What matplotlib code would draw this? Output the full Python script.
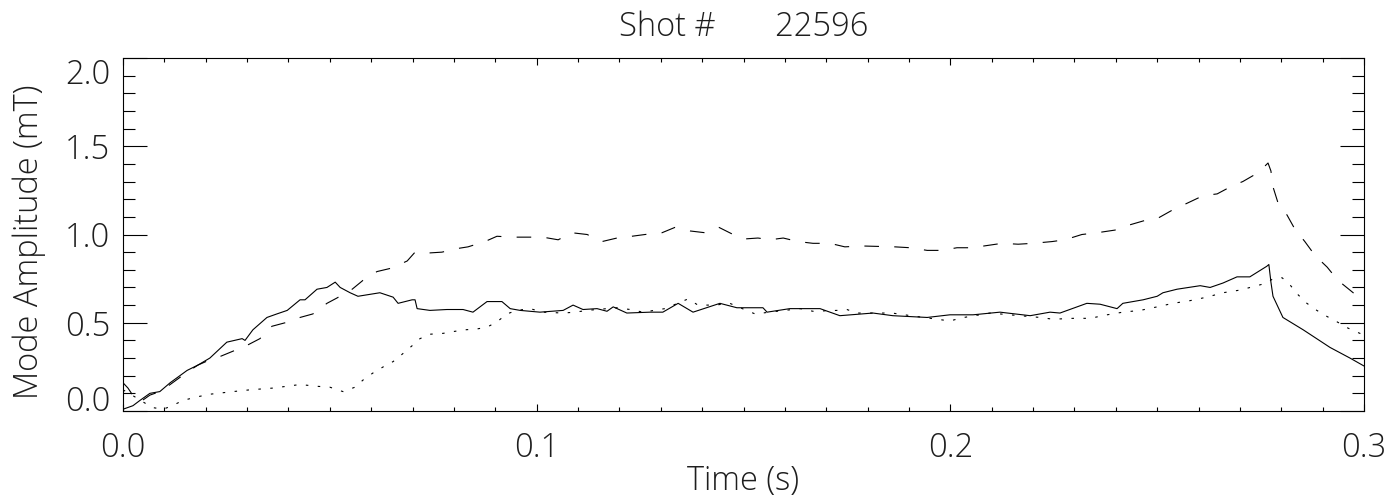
import matplotlib
matplotlib.use("Agg")
import matplotlib.pyplot as plt
from matplotlib.ticker import FixedLocator, MultipleLocator, FormatStrFormatter

# ---- data -------------------------------------------------------------
shot_number = 22596

# solid trace
t_solid = [0.0, 0.0024, 0.0041, 0.0065, 0.0089, 0.0114, 0.0155, 0.0181, 0.0210,
           0.0251, 0.0288, 0.0295, 0.0314, 0.0348, 0.0372, 0.0397, 0.0428, 0.0440,
           0.0469, 0.0493, 0.0513, 0.0525, 0.0549, 0.0568, 0.0621, 0.0653, 0.0665,
           0.0699, 0.0706, 0.0711, 0.0742, 0.0783, 0.0822, 0.0846, 0.0880, 0.0916,
           0.0936, 0.0960, 0.1008, 0.1064, 0.1088, 0.1112, 0.1146, 0.1170, 0.1185,
           0.1218, 0.1274, 0.1305, 0.1342, 0.1378, 0.1443, 0.1484, 0.1547, 0.1557,
           0.1612, 0.1685, 0.1733, 0.1813, 0.1861, 0.1944, 0.1999, 0.2055, 0.2120,
           0.2193, 0.2241, 0.2265, 0.2330, 0.2362, 0.2403, 0.2417, 0.2466, 0.2500,
           0.2514, 0.2548, 0.2604, 0.2628, 0.2659, 0.2693, 0.2724, 0.2765, 0.2770,
           0.2775, 0.2780, 0.2804, 0.2853, 0.2918, 0.2966, 0.3000]
v_solid = [0.01, 0.03, 0.06, 0.10, 0.11, 0.16, 0.23, 0.26, 0.30,
           0.39, 0.41, 0.40, 0.46, 0.53, 0.55, 0.57, 0.63, 0.63,
           0.69, 0.70, 0.73, 0.70, 0.67, 0.65, 0.67, 0.645, 0.61,
           0.63, 0.63, 0.58, 0.57, 0.575, 0.575, 0.56, 0.62, 0.62,
           0.58, 0.57, 0.56, 0.57, 0.60, 0.575, 0.58, 0.565, 0.59,
           0.555, 0.56, 0.56, 0.61, 0.56, 0.61, 0.585, 0.585, 0.56,
           0.58, 0.58, 0.54, 0.555, 0.54, 0.53, 0.545, 0.545, 0.56,
           0.54, 0.56, 0.555, 0.61, 0.605, 0.58, 0.61, 0.63, 0.65,
           0.67, 0.69, 0.71, 0.70, 0.725, 0.76, 0.76, 0.82, 0.83,
           0.73, 0.65, 0.53, 0.46, 0.36, 0.30, 0.255]

# dashed trace
t_dashed = [0.0, 0.0012, 0.0029, 0.0041, 0.0065, 0.0089, 0.0114, 0.0155, 0.0181,
            0.0210, 0.0236, 0.0267, 0.0290, 0.0331, 0.0360, 0.0392, 0.0428, 0.0459,
            0.0493, 0.0517, 0.0554, 0.0580, 0.0614, 0.0650, 0.0687, 0.0706, 0.0737,
            0.0771, 0.0807, 0.0834, 0.0875, 0.0904, 0.0940, 0.0977, 0.1015, 0.1052,
            0.1085, 0.1122, 0.1158, 0.1194, 0.1230, 0.1262, 0.1303, 0.1334, 0.1371,
            0.1407, 0.1441, 0.1475, 0.1504, 0.1535, 0.1564, 0.1596, 0.1632, 0.1668,
            0.1709, 0.1745, 0.1786, 0.1866, 0.1903, 0.1944, 0.1980, 0.2016, 0.2052,
            0.2096, 0.2125, 0.2164, 0.2200, 0.2246, 0.2277, 0.2318, 0.2355, 0.2398,
            0.2427, 0.2471, 0.2500, 0.2538, 0.2575, 0.2611, 0.2645, 0.2681, 0.2707,
            0.2744, 0.2768, 0.2775, 0.2780, 0.2792, 0.2814, 0.2833, 0.2857, 0.2882,
            0.2911, 0.2937, 0.2966, 0.3000]
v_dashed = [0.16, 0.13, 0.07, 0.05, 0.09, 0.11, 0.15, 0.22, 0.26,
            0.29, 0.31, 0.34, 0.36, 0.41, 0.48, 0.50, 0.53, 0.55,
            0.61, 0.64, 0.69, 0.74, 0.79, 0.81, 0.85, 0.90, 0.895,
            0.90, 0.92, 0.93, 0.96, 0.99, 0.985, 0.985, 0.985, 0.97,
            1.01, 1.00, 0.96, 0.98, 0.99, 1.00, 1.01, 1.04, 1.02,
            1.01, 1.04, 1.00, 0.975, 0.98, 0.97, 0.98, 0.96, 0.95,
            0.95, 0.93, 0.935, 0.93, 0.925, 0.91, 0.91, 0.925, 0.925,
            0.94, 0.95, 0.945, 0.95, 0.96, 0.97, 1.00, 1.01, 1.025,
            1.05, 1.08, 1.09, 1.14, 1.18, 1.22, 1.23, 1.275, 1.30,
            1.35, 1.405, 1.36, 1.27, 1.18, 1.11, 1.03, 0.96, 0.88,
            0.815, 0.74, 0.685, 0.62]

# dotted trace
t_dotted = [0.0, 0.0036, 0.0070, 0.0097, 0.0119, 0.0145, 0.0179, 0.0210, 0.0266,
            0.0307, 0.0363, 0.0428, 0.0469, 0.0500, 0.0525, 0.0532, 0.0561, 0.0580,
            0.0604, 0.0629, 0.0653, 0.0674, 0.0699, 0.0718, 0.0742, 0.0774, 0.0798,
            0.0827, 0.0856, 0.0880, 0.0904, 0.0928, 0.0952, 0.0984, 0.1015, 0.1064,
            0.1093, 0.1122, 0.1194, 0.1226, 0.1257, 0.1310, 0.1366, 0.1390, 0.1431,
            0.1467, 0.1492, 0.1528, 0.1581, 0.1637, 0.1668, 0.1726, 0.1750, 0.1774,
            0.1859, 0.1920, 0.1968, 0.1999, 0.2028, 0.2096, 0.2144, 0.2217, 0.2248,
            0.2297, 0.2338, 0.2379, 0.2417, 0.2459, 0.2500, 0.2538, 0.2579, 0.2620,
            0.2659, 0.2700, 0.2741, 0.2765, 0.2780, 0.2802, 0.2821, 0.2840, 0.2862,
            0.2886, 0.2911, 0.2935, 0.2961, 0.2990, 0.3000]
v_dotted = [0.12, 0.07, 0.02, 0.01, 0.03, 0.06, 0.08, 0.095, 0.11,
            0.12, 0.13, 0.15, 0.14, 0.135, 0.115, 0.11, 0.135, 0.175,
            0.215, 0.25, 0.28, 0.32, 0.37, 0.41, 0.435, 0.44, 0.45,
            0.46, 0.465, 0.475, 0.505, 0.55, 0.57, 0.58, 0.56, 0.555,
            0.56, 0.57, 0.585, 0.575, 0.56, 0.58, 0.635, 0.60, 0.60,
            0.61, 0.585, 0.55, 0.565, 0.58, 0.565, 0.57, 0.575, 0.555,
            0.555, 0.535, 0.52, 0.51, 0.528, 0.555, 0.545, 0.53, 0.52,
            0.525, 0.525, 0.545, 0.56, 0.57, 0.59, 0.61, 0.625, 0.645,
            0.67, 0.685, 0.71, 0.725, 0.75, 0.755, 0.715, 0.66, 0.61,
            0.57, 0.535, 0.505, 0.47, 0.44, 0.43]

x_major = [0.0, 0.1, 0.2, 0.3]
y_major = [0.0, 0.5, 1.0, 1.5, 2.0]

# ---- style ------------------------------------------------------------
plt.rcParams["font.family"] = ["Open Sans", "Roboto", "DejaVu Sans"]
plt.rcParams["font.weight"] = "light"
plt.rcParams["axes.labelweight"] = "light"
plt.rcParams["lines.scale_dashes"] = False
text_color = "#1e1e1e"
fs = 23.5
font = dict(fontsize=fs, fontweight="light", color=text_color)

fig = plt.figure(figsize=(13.9, 5.01), dpi=100)
ax = fig.add_axes([123 / 1390, 90 / 501, 1241 / 1390, 353 / 501])

lw = 0.8
ax.plot(t_solid, v_solid, color="black", lw=lw, solid_joinstyle="round")
ax.plot(t_dashed, v_dashed, color="black", lw=lw, dashes=(10.5, 11))
ax.plot(t_dotted, v_dotted, color="black", lw=lw, dashes=(1.8, 6.8))

ax.set_xlim(0.0, 0.3)
ax.set_ylim(0.0, 2.0)

for sp in ax.spines.values():
    sp.set_linewidth(0.8)
    sp.set_color("black")

ax.xaxis.set_major_locator(FixedLocator(x_major))
ax.xaxis.set_minor_locator(MultipleLocator(0.01))
ax.yaxis.set_major_locator(FixedLocator(y_major))
ax.yaxis.set_minor_locator(MultipleLocator(0.1))
ax.xaxis.set_major_formatter(FormatStrFormatter("%.1f"))
ax.yaxis.set_major_formatter(FormatStrFormatter("%.1f"))

ax.tick_params(axis="both", which="both", direction="in", top=True, right=True,
               width=0.8, color="black", labelcolor=text_color, labelsize=fs)
ax.tick_params(axis="x", which="major", length=5.2, pad=14.5)
ax.tick_params(axis="x", which="minor", length=2.6)
ax.tick_params(axis="y", which="major", length=17.5, pad=9)
ax.tick_params(axis="y", which="minor", length=8.8)

# end labels on the y axis sit inside the frame
yt = ax.yaxis.get_major_ticks()
yt[0].label1.set_verticalalignment("baseline")
yt[-1].label1.set_verticalalignment("top")

ax.set_xlabel("Time (s)", **font)
ax.xaxis.label.set_verticalalignment("center")
ax.xaxis.set_label_coords(0.5, (411 - 481) / 353)

ax.set_ylabel("Mode Amplitude (mT)", **font)
ax.yaxis.label.set_verticalalignment("center")
ax.yaxis.set_label_coords((29 - 123) / 1241, (411 - 242) / 353)

ax.text(0.5, (411 - 27) / 353, f"Shot #       {shot_number}", transform=ax.transAxes,
        ha="center", va="center", **font)

fig.savefig("out.png", dpi=100)
